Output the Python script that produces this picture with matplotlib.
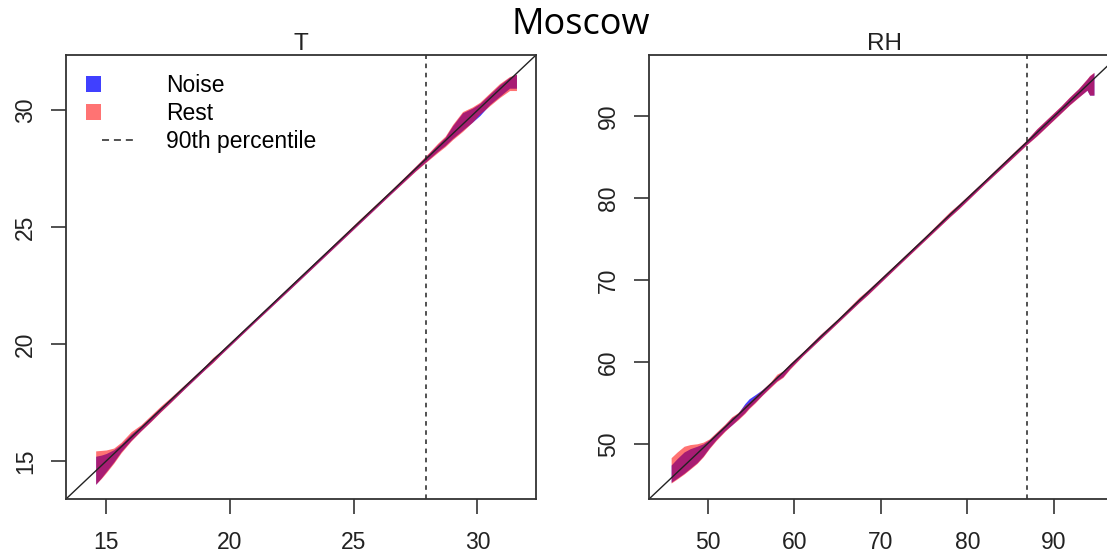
import numpy as np
import matplotlib
matplotlib.use("Agg")
import matplotlib.pyplot as plt
from matplotlib.lines import Line2D
from matplotlib.patches import Rectangle

# quantile bands for temperature (T)
T_q = [14.57, 14.8, 15.0, 15.3, 15.6, 16.0, 16.4, 16.8, 17.2, 17.6, 18.2, 19.0, 19.3, 19.6,
       21.0, 22.5, 24.0, 25.2, 26.5, 27.5, 28.0, 28.4, 28.7, 29.0, 29.4, 29.8, 30.1, 30.5,
       30.9, 31.3, 31.58]
T_rest_lo = [14.0, 14.25, 14.5, 14.9, 15.35, 15.85, 16.28, 16.68, 17.1, 17.5, 18.12, 18.92, 19.2, 19.52,
             20.93, 22.42, 23.92, 25.12, 26.42, 27.4, 27.85, 28.2, 28.45, 28.75, 29.1, 29.5, 29.85, 30.2,
             30.55, 30.85, 30.85]
T_rest_hi = [15.43, 15.45, 15.47, 15.55, 15.8, 16.25, 16.55, 16.95, 17.35, 17.72, 18.3, 19.08, 19.42, 19.68,
             21.07, 22.58, 24.08, 25.3, 26.58, 27.62, 28.15, 28.6, 28.9, 29.4, 29.95, 30.15, 30.35, 30.75,
             31.15, 31.45, 31.55]
T_noise_lo = [14.0, 14.28, 14.55, 14.95, 15.4, 15.88, 16.3, 16.7, 17.12, 17.52, 18.13, 18.93, 19.22, 19.53,
              20.94, 22.43, 23.93, 25.13, 26.43, 27.42, 27.88, 28.25, 28.5, 28.8, 29.15, 29.5, 29.78, 30.25,
              30.6, 30.95, 30.95]
T_noise_hi = [15.2, 15.25, 15.32, 15.48, 15.72, 16.15, 16.5, 16.9, 17.3, 17.68, 18.28, 19.07, 19.38, 19.66,
              21.06, 22.57, 24.07, 25.27, 26.56, 27.6, 28.12, 28.55, 28.85, 29.35, 29.9, 30.1, 30.3, 30.7,
              31.1, 31.42, 31.55]
T_p90 = 27.94

# quantile bands for relative humidity (RH)
RH_q = [45.8, 46.5, 47.3, 48.0, 48.8, 49.5, 50.2, 51.0, 52.0, 52.8, 53.5, 54.3, 54.8, 55.5, 56.3,
        57.3, 58.0, 58.7, 59.5, 61.0, 63.0, 65.0, 67.5, 68.5, 72.0, 75.0, 78.0, 79.0, 82.0, 85.0,
        86.8, 88.0, 88.8, 89.8, 90.8, 91.8, 92.8, 93.8, 94.1, 94.6]
RH_rest_lo = [45.2, 45.7, 46.3, 46.9, 47.6, 48.4, 49.4, 50.4, 51.5, 52.3, 52.9, 53.7, 54.3, 55.0, 55.9,
              56.9, 57.6, 58.1, 59.1, 60.75, 62.75, 64.75, 67.25, 68.2, 71.75, 74.75, 77.75, 78.7, 81.75, 84.7,
              86.5, 87.6, 88.4, 89.4, 90.4, 91.4, 92.3, 93.2, 92.6, 92.6]
RH_rest_hi = [48.3, 49.0, 49.7, 49.9, 50.0, 50.2, 50.6, 51.4, 52.4, 53.3, 53.8, 54.7, 55.1, 55.8, 56.6,
              57.6, 58.5, 58.9, 59.8, 61.25, 63.35, 65.25, 67.9, 68.8, 72.25, 75.25, 78.4, 79.3, 82.25, 85.3,
              87.1, 88.5, 89.3, 90.3, 91.3, 92.4, 93.4, 94.6, 95.0, 95.4]
RH_noise_lo = [45.3, 45.8, 46.4, 47.0, 47.7, 48.5, 49.5, 50.5, 51.6, 52.3, 53.0, 53.8, 54.4, 55.1, 55.95,
               57.0, 57.7, 58.2, 59.2, 60.8, 62.8, 64.8, 67.3, 68.25, 71.8, 74.8, 77.8, 78.75, 81.8, 84.75,
               86.55, 87.65, 88.45, 89.45, 90.45, 91.45, 92.35, 93.2, 92.6, 92.6]
RH_noise_hi = [47.4, 48.2, 49.0, 49.4, 49.7, 50.0, 50.5, 51.3, 52.3, 53.2, 53.7, 54.9, 55.5, 56.0, 56.6,
               57.5, 58.3, 58.85, 59.75, 61.2, 63.3, 65.2, 67.8, 68.75, 72.2, 75.2, 78.3, 79.25, 82.2, 85.25,
               87.05, 88.45, 89.25, 90.25, 91.25, 92.35, 93.35, 94.55, 94.95, 95.35]
RH_p90 = 86.85

noise_col = (0, 0, 1, 0.75)
rest_col = (1, 0, 0, 0.55)
ink = "#222222"

plt.rcParams["font.family"] = ["Liberation Sans", "DejaVu Sans"]

fig = plt.figure(figsize=(11.07, 5.57), dpi=100)
ax1 = fig.add_axes([0.0596, 0.1041, 0.4246, 0.7971])
ax2 = fig.add_axes([0.5863, 0.1041, 0.4246, 0.7971])


def panel(ax, q, n_lo, n_hi, r_lo, r_hi, p90, lims, ticks, title):
    ax.fill_between(q, n_lo, n_hi, color=noise_col, lw=0)
    ax.fill_between(q, r_lo, r_hi, color=rest_col, lw=0)
    ax.axline((lims[0], lims[0]), slope=1, color=ink, lw=1.0)
    ax.axvline(p90, color=ink, lw=1.1, ls=(0, (3, 3)))
    ax.set_xlim(lims)
    ax.set_ylim(lims)
    ax.set_xticks(ticks)
    ax.set_yticks(ticks)
    for s in ax.spines.values():
        s.set_linewidth(1.3)
        s.set_color("#333333")
    ax.tick_params(length=10.5, width=1.2, color="#333333", labelsize=16.5, labelcolor=ink)
    ax.tick_params(axis="x", pad=12.5)
    ax.tick_params(axis="y", pad=10.5, labelrotation=90)
    for lab in ax.get_yticklabels():
        lab.set_va("center")
    ax.set_title(title, fontsize=17.5, pad=3.6, color=ink)


panel(ax1, T_q, T_noise_lo, T_noise_hi, T_rest_lo, T_rest_hi, T_p90,
      (13.37, 32.37), [15, 20, 25, 30], "T")
panel(ax2, RH_q, RH_noise_lo, RH_noise_hi, RH_rest_lo, RH_rest_hi, RH_p90,
      (43.25, 97.5), [50, 60, 70, 80, 90], "RH")


class SquareKey:
    def legend_artist(self, legend, orig_handle, fontsize, handlebox):
        x0, y0 = handlebox.xdescent, handlebox.ydescent
        h = handlebox.height
        s = 11.0
        sq = Rectangle((x0, y0 + (h - s) / 2), s, s, facecolor=orig_handle.get_facecolor(),
                       edgecolor="none", transform=handlebox.get_transform())
        handlebox.add_artist(sq)
        return sq


class DashKey:
    def legend_artist(self, legend, orig_handle, fontsize, handlebox):
        x0, y0 = handlebox.xdescent, handlebox.ydescent
        w, h = handlebox.width, handlebox.height
        ln = Line2D([x0 + 0.31 * w, x0 + w], [y0 + h / 2, y0 + h / 2], color=ink, lw=1.1,
                    ls=(0, (4.6, 3.2)), transform=handlebox.get_transform())
        handlebox.add_artist(ln)
        return ln


h_noise = Rectangle((0, 0), 1, 1, facecolor=noise_col)
h_rest = Rectangle((0, 0), 1, 1, facecolor=rest_col)
h_p90 = Line2D([], [], color=ink, ls="--")
ax1.legend([h_noise, h_rest, h_p90], ["Noise", "Rest", "90th percentile"],
           handler_map={Rectangle: SquareKey(), Line2D: DashKey()},
           loc="upper left", bbox_to_anchor=(20 / 470, 1 - 19 / 444), frameon=False,
           borderpad=0, borderaxespad=0, fontsize=16.5, handlelength=2.22,
           handletextpad=1.27, labelspacing=0.22)

fig.text(0.525, 1 - 34 / 557, "Moscow", fontsize=26, family="Open Sans", ha="center", va="baseline")

fig.savefig("out.png", dpi=100)
